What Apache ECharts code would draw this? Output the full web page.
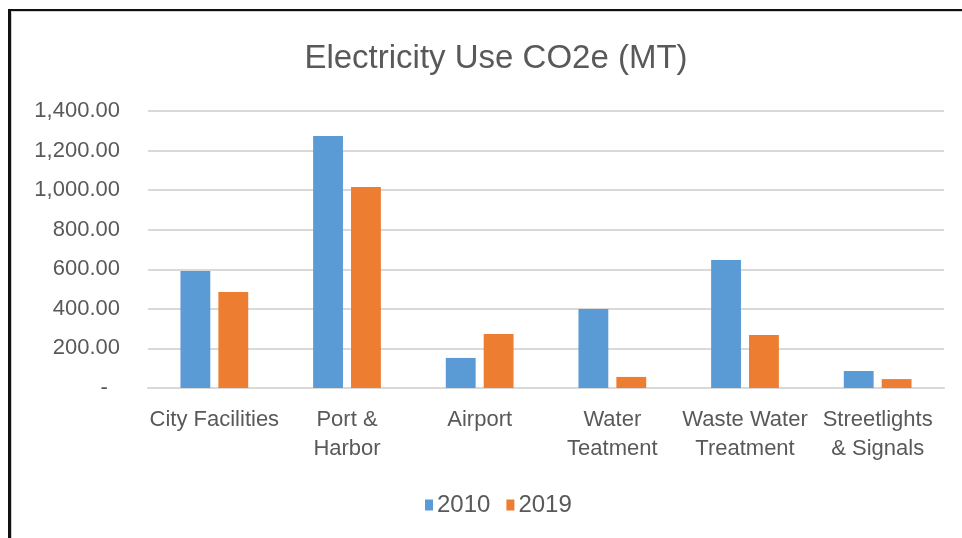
<!DOCTYPE html>
<html>
<head>
<meta charset="utf-8">
<script src="https://cdn.jsdelivr.net/npm/echarts@6/dist/echarts.min.js"></script>
<style>
  html, body { margin: 0; padding: 0; background: #fff; }
  #myChart { position: absolute; left: 0; top: 0; width: 962px; height: 538px; }
  #frame {
    position: absolute; left: 8px; top: 9px; width: 970px; height: 560px;
    border-left: 3px solid #111; border-top: 2px solid #111;
    box-shadow: inset 1px 1px 0 #d0d0d0; pointer-events: none;
  }
</style>
</head>
<body>
<div id="myChart"></div>
<div id="frame"></div>
<script>
const categories = ["City Facilities", "Port &\nHarbor", "Airport", "Water\nTeatment", "Waste Water\nTreatment", "Streetlights\n& Signals"];
const years = ["2010", "2019"];
const values2010 = [591, 1274, 152, 399, 647, 86];
const values2019 = [485, 1016, 273, 56, 268, 45];

const textColor = "#595959";
const font = "Liberation Sans, Arial, sans-serif";

// accounting style: zero shows as a dash
function fmt(v) {
  if (v === 0) return "-  ";
  return v.toFixed(2).replace(/\B(?=(\d{3})+(?!\d))/g, ",");
}

const myChart = echarts.init(document.getElementById("myChart"));
myChart.setOption({
  animation: false,
  title: {
    text: "Electricity Use CO2e (MT)",
    left: 491,
    textAlign: "center",
    top: 37,
    textStyle: { fontFamily: font, fontSize: 33, fontWeight: "normal", color: textColor }
  },
  legend: {
    data: years,
    left: 420,
    top: 488,
    itemWidth: 8,
    itemHeight: 11,
    itemGap: 16,
    icon: "rect",
    textStyle: { fontFamily: font, fontSize: 24, color: textColor, padding: [0, 0, 0, -1] }
  },
  grid: { left: 148, right: 18, top: 111, bottom: 150 },
  xAxis: {
    type: "category",
    data: categories,
    axisLine: { lineStyle: { color: "#d9d9d9", width: 2 } },
    axisTick: { show: false },
    axisLabel: {
      interval: 0,
      margin: 17,
      lineHeight: 29,
      fontFamily: font,
      fontSize: 22,
      color: textColor
    }
  },
  yAxis: {
    type: "value",
    min: 0,
    max: 1400,
    interval: 200,
    axisLine: { show: false },
    axisTick: { show: false },
    splitLine: { lineStyle: { color: "#d9d9d9", width: 2 } },
    axisLabel: {
      margin: 28,
      fontFamily: font,
      fontSize: 22,
      color: textColor,
      formatter: fmt
    }
  },
  series: [
    {
      name: years[0],
      type: "bar",
      data: values2010,
      barWidth: "22.5%",
      barGap: "27%",
      itemStyle: { color: "#5b9bd5" }
    },
    {
      name: years[1],
      type: "bar",
      data: values2019,
      barWidth: "22.5%",
      itemStyle: { color: "#ed7d31" }
    }
  ]
});
</script>
</body>
</html>
